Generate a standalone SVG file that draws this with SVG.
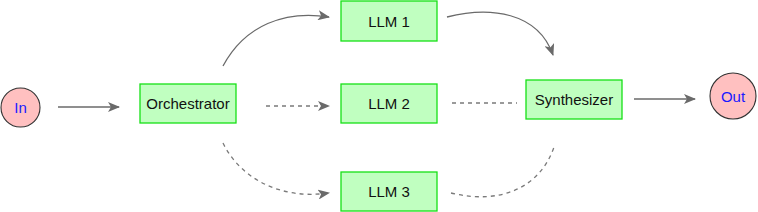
<svg xmlns="http://www.w3.org/2000/svg" width="758" height="212" viewBox="0 0 758 212">
<style>
.box{fill:#c0ffc0;stroke:#16e016;stroke-width:1.3}
.circ{fill:#ffc0c0;stroke:#333;stroke-width:1.1}
.lbl{font-family:"Liberation Sans",Arial,sans-serif;font-size:15px;fill:#111;text-anchor:middle;dominant-baseline:central}
.clbl{font-family:"Liberation Sans",Arial,sans-serif;font-size:15px;fill:#1a1aff;text-anchor:middle;dominant-baseline:central}
.e{fill:none;stroke:#6a6a6a;stroke-width:1.3}
.d{stroke-dasharray:4 4;stroke:#7a7a7a}
</style>
<defs>
<marker id="ah" viewBox="0 0 12 10" refX="11" refY="5" markerWidth="12" markerHeight="10" markerUnits="userSpaceOnUse" orient="auto">
<path d="M0,0 L12,5 L0,10 L3,5 z" fill="#6a6a6a"/>
</marker>
</defs>
<g id="connectors">
<path class="e" d="M58,107 L119,107" marker-end="url(#ah)"/>
<path class="e" d="M223,66 C245,25 285,10 329,17" marker-end="url(#ah)"/>
<path class="e" d="M447,17 C490,6 538,12 553,55" marker-end="url(#ah)"/>
<path class="e d" d="M266,106 L329,106" marker-end="url(#ah)"/>
<path class="e d" d="M452,103 L517,103"/>
<path class="e d" d="M223,143 C240,178 280,200 329,193" marker-end="url(#ah)"/>
<path class="e d" d="M451,193 C500,205 540,188 554,147"/>
<path class="e" d="M634,99 L695,99" marker-end="url(#ah)"/>
</g>
<g id="in"><circle class="circ" cx="20.5" cy="107.5" r="19.5"/><text class="clbl" x="20.5" y="107.5">In</text></g>
<g id="orchestrator"><rect class="box" x="140" y="84" width="96" height="39"/><text class="lbl" x="188" y="103.5">Orchestrator</text></g>
<g id="llm1"><rect class="box" x="341" y="1" width="96" height="40"/><text class="lbl" x="389" y="21">LLM 1</text></g>
<g id="llm2"><rect class="box" x="341" y="84" width="96" height="39"/><text class="lbl" x="389" y="103.5">LLM 2</text></g>
<g id="llm3"><rect class="box" x="341" y="172" width="96" height="39"/><text class="lbl" x="389" y="191.5">LLM 3</text></g>
<g id="synthesizer"><rect class="box" x="526" y="80" width="96" height="39"/><text class="lbl" x="574" y="99.5">Synthesizer</text></g>
<g id="out"><circle class="circ" cx="733" cy="96" r="23"/><text class="clbl" x="733" y="96">Out</text></g>
</svg>
